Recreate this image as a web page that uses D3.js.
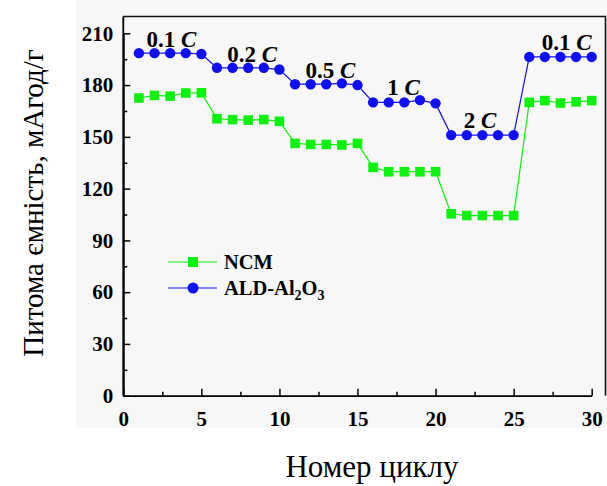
<!DOCTYPE html>
<html><head><meta charset="utf-8">
<script src="https://cdn.jsdelivr.net/npm/d3@7"></script>
<style>body{margin:0;background:#fff}svg{display:block}</style>
</head><body>
<svg id="chart" width="607" height="486"></svg>
<script>
const cycles = d3.range(1, 31);
const ncm = [172.5,174,173.6,175.4,175.5, 160.5,160,159.7,160,159, 146.2,145.6,145.6,145.3,146.2, 132.3,129.8,129.8,129.8,129.8, 105.4,104.4,104.4,104.4,104.4, 170,171,169.6,170.3,171];
const ald = [198.5,198.5,198.5,198.5,198, 190,190,190,190,189, 180.5,180.5,180.5,181,180, 170,170,170,171.3,169.4, 151,151,151,151,151, 196.3,196.3,196.3,196.3,196.3];
const rateLabels = ["0.1", "0.2", "0.5", "1", "2", "0.1"];
const rateX = [3.09, 8.25, 13.27, 17.95, 22.85, 28.4];
const rateY = [202, 193.5, 184, 174.2, 155, 200.3];
const xTicks = [0, 5, 10, 15, 20, 25, 30];
const yTicks = [0, 30, 60, 90, 120, 150, 180, 210];
const seriesNames = ["NCM", "ALD-Al"];
const xTitle = "Номер циклу";
const yTitle = "Питома ємність, мАгод/г";

const svg = d3.select("#chart");
const L = 123.3, R = 605.5, T = 16.5, B = 395.7;
const x = d3.scaleLinear().domain([0, 30]).range([L, L + 30 * 15.613]);
const y = d3.scaleLinear().domain([0, 210]).range([B, B - 210 * 1.7257]);
const serif = "'Liberation Serif','Times New Roman',serif";

svg.append("rect").attr("x", 76).attr("y", 0).attr("width", 531).attr("height", 428).attr("fill", "#f7f7f7");

// axes
const xAxis = svg.append("g").attr("transform", `translate(0,${B})`)
  .call(d3.axisBottom(x).tickValues(xTicks).tickSizeInner(-7).tickSizeOuter(0).tickPadding(15).tickFormat(d3.format("d")));
svg.append("g").attr("transform", `translate(0,${B})`)
  .call(d3.axisBottom(x).tickValues(d3.range(2.5, 30, 5)).tickSizeInner(-4).tickSizeOuter(0).tickFormat(""))
  .call(g => g.select(".domain").remove());
const yAxis = svg.append("g").attr("transform", `translate(${L},0)`)
  .call(d3.axisLeft(y).tickValues(yTicks).tickSizeInner(-7).tickSizeOuter(0).tickPadding(10).tickFormat(d3.format("d")));
svg.append("g").attr("transform", `translate(${L},0)`)
  .call(d3.axisLeft(y).tickValues(d3.range(15, 210, 30)).tickSizeInner(-4).tickSizeOuter(0).tickFormat(""))
  .call(g => g.select(".domain").remove());
svg.selectAll(".tick line").attr("stroke", "#000").attr("stroke-width", 1.5);
svg.selectAll(".domain").attr("stroke", "#000").attr("stroke-width", 1.8);
svg.selectAll(".tick text").attr("font-family", serif).attr("font-weight", "bold").attr("font-size", "21px").attr("fill", "#000");
xAxis.selectAll(".tick text").attr("dy", "0.71em");

// frame top/right
svg.append("path").attr("d", `M${L},${T}H${R}V${B}`).attr("fill", "none").attr("stroke", "#111").attr("stroke-width", 1.6);
svg.append("line").attr("x1", L).attr("x2", L).attr("y1", T).attr("y2", B).attr("stroke", "#000").attr("stroke-width", 1.8);

const line = d3.line().x((d, i) => x(cycles[i])).y(d => y(d));
const green = "#11ee11", blue = "#1010ee";
svg.append("path").datum(ncm).attr("d", line).attr("fill", "none").attr("stroke", green).attr("stroke-width", 1.2);
svg.append("path").datum(ald).attr("d", line).attr("fill", "none").attr("stroke", blue).attr("stroke-width", 1.2);
svg.selectAll(".sq").data(ncm).join("rect").attr("class", "sq")
  .attr("x", (d, i) => x(cycles[i]) - 4.8).attr("y", d => y(d) - 4.8).attr("width", 9.6).attr("height", 9.6).attr("fill", green);
svg.selectAll(".ci").data(ald).join("circle").attr("class", "ci")
  .attr("cx", (d, i) => x(cycles[i])).attr("cy", d => y(d)).attr("r", 5.2).attr("fill", blue);

// rate labels
rateLabels.forEach((lab, i) => {
  const t = svg.append("text").attr("x", x(rateX[i])).attr("y", y(rateY[i])).attr("text-anchor", "middle")
    .attr("font-family", serif).attr("font-weight", "bold").attr("font-size", "23px").attr("fill", "#000");
  t.append("tspan").text(lab + " ");
  t.append("tspan").attr("font-style", "italic").text("C");
});

// legend
const lg = [{name: seriesNames[0], c: green, y: 262, m: "sq"}, {name: seriesNames[1], c: blue, y: 288, m: "ci"}];
lg.forEach(o => {
  svg.append("line").attr("x1", 168).attr("x2", 217).attr("y1", o.y).attr("y2", o.y).attr("stroke", o.c).attr("stroke-width", 1.2);
  if (o.m === "sq") svg.append("rect").attr("x", 188).attr("y", o.y - 5).attr("width", 10).attr("height", 10).attr("fill", o.c);
  else svg.append("circle").attr("cx", 193).attr("cy", o.y).attr("r", 5.5).attr("fill", o.c);
  const t = svg.append("text").attr("x", 224).attr("y", o.y + 7).attr("font-family", serif).attr("font-weight", "bold").attr("font-size", "20.5px").attr("fill", "#000");
  t.append("tspan").text(o.name);
  if (o.m === "ci") {
    t.append("tspan").attr("font-size", "14px").attr("dy", 5).text("2");
    t.append("tspan").attr("font-size", "20.5px").attr("dy", -5).text("O");
    t.append("tspan").attr("font-size", "14px").attr("dy", 5).text("3");
  }
});

// titles
svg.append("text").attr("x", 372).attr("y", 477).attr("text-anchor", "middle").attr("font-family", serif).attr("font-size", "31px").attr("fill", "#000").text(xTitle);
svg.append("text").attr("transform", "translate(43,203) rotate(-90)").attr("text-anchor", "middle").attr("font-family", serif).attr("font-size", "29px").attr("fill", "#000").text(yTitle);
</script>
</body></html>
